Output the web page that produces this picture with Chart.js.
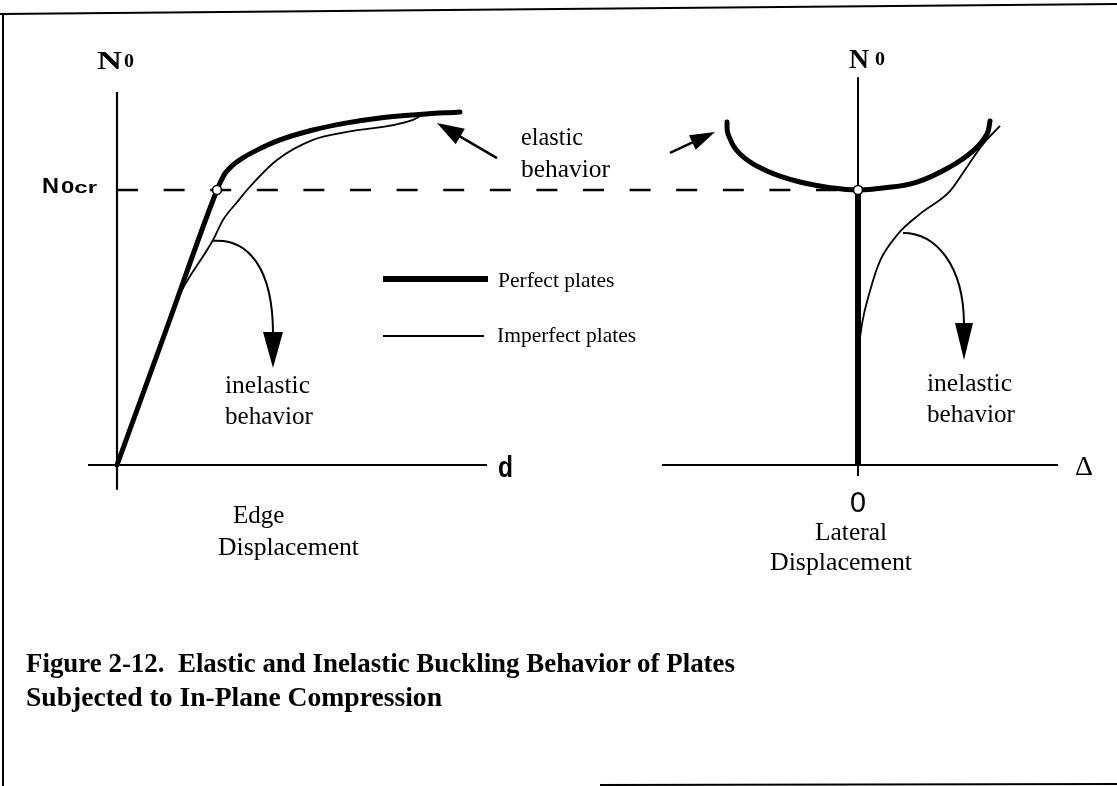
<!DOCTYPE html>
<html><head><meta charset="utf-8">
<script src="https://cdn.jsdelivr.net/npm/chart.js@4.4.1/dist/chart.umd.min.js"></script>
<style>
html,body{margin:0;padding:0;background:#fff;}
#wrap{position:relative;width:1117px;height:786px;overflow:hidden;background:#fff;}
#c{position:absolute;left:0;top:0;}
.cap{position:absolute;left:26px;font:bold 27px "Liberation Serif",serif;color:#000;white-space:nowrap;transform-origin:0 0;line-height:27px;}
</style></head><body>
<div id="wrap"><canvas id="c" width="1117" height="786"></canvas>
<div class="cap" id="cap1" style="top:650px">Figure 2-12.&nbsp; Elastic and Inelastic Buckling Behavior of Plates</div>
<div class="cap" id="cap2" style="top:684px">Subjected to In-Plane Compression</div>
</div>
<script>
// ---- Left panel: N0 / N0cr versus edge displacement d ----
const perfectEdgeD   = [0, 0.5, 1.0, 1.04, 1.08, 1.15, 1.26, 1.40, 1.63, 1.96, 2.30, 2.63, 2.96, 3.43];
const perfectEdgeN   = [0, 0.5, 1.0, 1.033, 1.06, 1.088, 1.117, 1.145, 1.182, 1.218, 1.244, 1.262, 1.273, 1.284];
const imperfectEdgeD = [0, 0.3, 0.6, 0.96, 1.06, 1.22, 1.30, 1.60, 1.96, 2.30, 2.96, 3.08];
const imperfectEdgeN = [0, 0.3, 0.6, 0.818, 0.891, 0.964, 1.0, 1.109, 1.182, 1.211, 1.255, 1.28];
// ---- Right panel: N0 / N0cr versus lateral displacement Δ ----
const perfectLatD    = [-1.31, -1.30, -1.18, -0.91, -0.58, -0.25, 0, 0.25, 0.59, 0.92, 1.15, 1.29, 1.32];
const perfectLatN    = [1.247, 1.204, 1.131, 1.069, 1.029, 1.007, 1.0, 1.007, 1.029, 1.084, 1.142, 1.204, 1.251];
const perfectStemD   = [0, 0];
const perfectStemN   = [0, 1.0];
const imperfectLatD  = [0, 0.04, 0.12, 0.22, 0.40, 0.62, 0.92, 1.09, 1.25, 1.42];
const imperfectLatN  = [0.40, 0.513, 0.633, 0.742, 0.84, 0.913, 0.996, 1.084, 1.167, 1.233];
// ---- reference level and critical points ----
const critLevel = [1.0, 1.0];
const critLineD = [0, 7.23];
const critPointEdge = [1.0, 1.0];   // [d, N]
const critPointLat  = [0, 1.0];     // [Δ, N]
// ---- axis extents ----
const leftAxisX  = [-0.29, 3.70];
const leftAxisY  = [-0.09, 1.356];
const rightAxisX = [-1.96, 2.00];
const rightAxisY = [-0.04, 1.41];

const pts = (xs, ys) => xs.map((x, i) => ({x, y: ys[i]}));
const BLACK = '#000';

function txt(ctx, s, x, y, font, w, align) {
  ctx.save();
  ctx.font = font;
  ctx.fillStyle = BLACK;
  ctx.textBaseline = 'alphabetic';
  ctx.textAlign = 'left';
  const m = ctx.measureText(s).width;
  const sx = w ? w / m : 1;
  const ww = w || m;
  let x0 = x;
  if (align === 'center') x0 = x - ww / 2;
  ctx.translate(x0, y);
  ctx.scale(sx, 1);
  ctx.fillText(s, 0, 0);
  ctx.restore();
}

function straightArrow(ctx, tail, tip, L, hw, lw) {
  const dx = tip[0] - tail[0], dy = tip[1] - tail[1];
  const len = Math.hypot(dx, dy), ux = dx / len, uy = dy / len;
  const bx = tip[0] - ux * L, by = tip[1] - uy * L;
  ctx.save();
  ctx.strokeStyle = BLACK; ctx.fillStyle = BLACK; ctx.lineWidth = lw;
  ctx.beginPath(); ctx.moveTo(tail[0], tail[1]); ctx.lineTo(bx + ux * 2, by + uy * 2); ctx.stroke();
  ctx.beginPath();
  ctx.moveTo(tip[0], tip[1]);
  ctx.lineTo(bx - uy * hw, by + ux * hw);
  ctx.lineTo(bx + uy * hw, by - ux * hw);
  ctx.closePath(); ctx.fill();
  ctx.restore();
}

function curvedArrow(ctx, p0, c1, c2, p1, tip, hw, lw) {
  ctx.save();
  ctx.strokeStyle = BLACK; ctx.fillStyle = BLACK; ctx.lineWidth = lw;
  ctx.beginPath(); ctx.moveTo(p0[0], p0[1]);
  ctx.bezierCurveTo(c1[0], c1[1], c2[0], c2[1], p1[0], p1[1] + 2);
  ctx.stroke();
  ctx.beginPath();
  ctx.moveTo(tip[0], tip[1]);
  ctx.lineTo(p1[0] - hw, p1[1]);
  ctx.lineTo(p1[0] + hw, p1[1]);
  ctx.closePath(); ctx.fill();
  ctx.restore();
}

const decor = {
  id: 'decor',
  afterDatasetsDraw(chart) {
    const ctx = chart.ctx;
    const xL = chart.scales.xL, xR = chart.scales.xR, y = chart.scales.y;
    const L = (d, n) => [xL.getPixelForValue(d), y.getPixelForValue(n)];
    const R = (d, n) => [xR.getPixelForValue(d), y.getPixelForValue(n)];

    // frame
    ctx.save();
    ctx.strokeStyle = BLACK; ctx.lineWidth = 2;
    ctx.beginPath(); ctx.moveTo(0, 14); ctx.lineTo(1117, 4); ctx.stroke();
    ctx.beginPath(); ctx.moveTo(3, 13); ctx.lineTo(3, 786); ctx.stroke();
    ctx.beginPath(); ctx.moveTo(600, 785); ctx.lineTo(1117, 784); ctx.stroke();
    ctx.restore();

    // legend swatches
    ctx.save(); ctx.strokeStyle = BLACK;
    let a = L(2.66, 0.676), b = L(3.71, 0.676);
    ctx.lineWidth = 6; ctx.beginPath(); ctx.moveTo(a[0], a[1]); ctx.lineTo(b[0], b[1]); ctx.stroke();
    a = L(2.66, 0.469); b = L(3.67, 0.469);
    ctx.lineWidth = 1.8; ctx.beginPath(); ctx.moveTo(a[0], a[1]); ctx.lineTo(b[0], b[1]); ctx.stroke();
    ctx.restore();

    // arrows
    straightArrow(ctx, L(3.80, 1.116), L(3.20, 1.244), 27, 9, 2.5);
    straightArrow(ctx, R(-1.88, 1.135), R(-1.43, 1.211), 25, 8, 2.5);
    curvedArrow(ctx, L(0.96, 0.815), L(1.31, 0.825), L(1.56, 0.716), L(1.56, 0.484), L(1.56, 0.353), 10, 2);
    curvedArrow(ctx, R(0.45, 0.844), R(0.77, 0.844), R(1.06, 0.731), R(1.06, 0.516), R(1.06, 0.382), 9, 2);

    // texts
    const SERIF = '"Liberation Serif", "Times New Roman", serif';
    const SANS = '"Liberation Sans", Arial, sans-serif';
    txt(ctx, 'N', 97, 69, 'bold 26px ' + SERIF, 25);
    txt(ctx, '0', 124, 67, 'bold 19px ' + SERIF, 10);
    txt(ctx, 'N', 849, 68, 'bold 27px ' + SERIF, 20);
    txt(ctx, '0', 875, 65, 'bold 19px ' + SERIF, 10);
    txt(ctx, 'N', 42, 193, 'bold 22px ' + SANS, 17);
    txt(ctx, '0cr', 61, 193, 'bold 17px ' + SANS, 36);
    txt(ctx, 'd', 498, 477, 'bold 29px ' + SANS, 15);
    txt(ctx, 'elastic', 521, 145, '25px ' + SERIF, 62);
    txt(ctx, 'behavior', 521, 177, '25px ' + SERIF, 89);
    txt(ctx, 'Perfect plates', 498, 287, '21.5px ' + SERIF);
    txt(ctx, 'Imperfect plates', 497, 342, '21.5px ' + SERIF);
    txt(ctx, 'inelastic', 225, 393, '25px ' + SERIF, 85);
    txt(ctx, 'behavior', 225, 424, '25px ' + SERIF, 88);
    txt(ctx, 'Edge', 233, 523, '25px ' + SERIF);
    txt(ctx, 'Displacement', 218, 555, '25px ' + SERIF, 141);
    txt(ctx, 'inelastic', 927, 391, '25px ' + SERIF, 85);
    txt(ctx, 'behavior', 927, 422, '25px ' + SERIF, 88);
    txt(ctx, 'Δ', 1075, 475, '28px ' + SERIF, 18);
    txt(ctx, '0', 858, 512, '30px ' + SANS, 16, 'center');
    txt(ctx, 'Lateral', 815, 540, '25px ' + SERIF, 72);
    txt(ctx, 'Displacement', 770, 570, '25px ' + SERIF, 142);
  }
};

const line = (data, xAxisID, width, extra) => Object.assign({
  data, xAxisID, yAxisID: 'y', showLine: true, borderColor: BLACK, backgroundColor: BLACK,
  borderWidth: width, pointRadius: 0, fill: false, borderCapStyle: 'butt', order: 5
}, extra || {});

new Chart(document.getElementById('c'), {
  type: 'scatter',
  data: {
    datasets: [
      { data: [{x: critPointEdge[0], y: critPointEdge[1]}], xAxisID: 'xL', yAxisID: 'y',
        pointRadius: 4.5, pointBackgroundColor: '#fff', pointBorderColor: BLACK, pointBorderWidth: 1.6, order: 0 },
      { data: [{x: critPointLat[0], y: critPointLat[1]}], xAxisID: 'xR', yAxisID: 'y',
        pointRadius: 4.5, pointBackgroundColor: '#fff', pointBorderColor: BLACK, pointBorderWidth: 1.6, order: 0 },
      line(pts(leftAxisX, [0, 0]), 'xL', 2.2),
      line(pts([0, 0], leftAxisY), 'xL', 2.2),
      line(pts(rightAxisX, [0, 0]), 'xR', 2.2),
      line(pts([0, 0], rightAxisY), 'xR', 2),
      line(pts(critLineD, critLevel), 'xL', 2.4, { borderDash: [21, 25.6], order: 6 }),
      line(pts(perfectEdgeD, perfectEdgeN), 'xL', 5, { cubicInterpolationMode: 'monotone', borderCapStyle: 'round', borderJoinStyle: 'round', order: 2 }),
      line(pts(imperfectEdgeD, imperfectEdgeN), 'xL', 1.8, { cubicInterpolationMode: 'monotone', order: 3 }),
      line(pts(perfectLatD, perfectLatN), 'xR', 5, { tension: 0.4, borderCapStyle: 'round', order: 2 }),
      line(pts(perfectStemD, perfectStemN), 'xR', 6, { order: 2 }),
      line(pts(imperfectLatD, imperfectLatN), 'xR', 1.8, { cubicInterpolationMode: 'monotone', order: 3 })
    ]
  },
  options: {
    responsive: false, animation: false, events: [],
    layout: { padding: 0, autoPadding: false },
    plugins: { legend: { display: false }, tooltip: { enabled: false }, title: { display: false } },
    scales: {
      x:  { type: 'linear', display: false },
      xL: { type: 'linear', axis: 'x', display: false, min: -1.17, max: 10.0 },
      xR: { type: 'linear', axis: 'x', display: false, min: -8.58, max: 2.59 },
      y:  { type: 'linear', axis: 'y', display: false, min: -1.1673, max: 1.6909 }
    }
  },
  plugins: [decor]
});

// fit caption lines to the measured widths of the reference
function fitCap(id, w) {
  const el = document.getElementById(id);
  const cw = el.getBoundingClientRect().width;
  el.style.transform = 'scaleX(' + (w / cw) + ')';
}
fitCap('cap1', 709);
fitCap('cap2', 416);
</script>
</body></html>
